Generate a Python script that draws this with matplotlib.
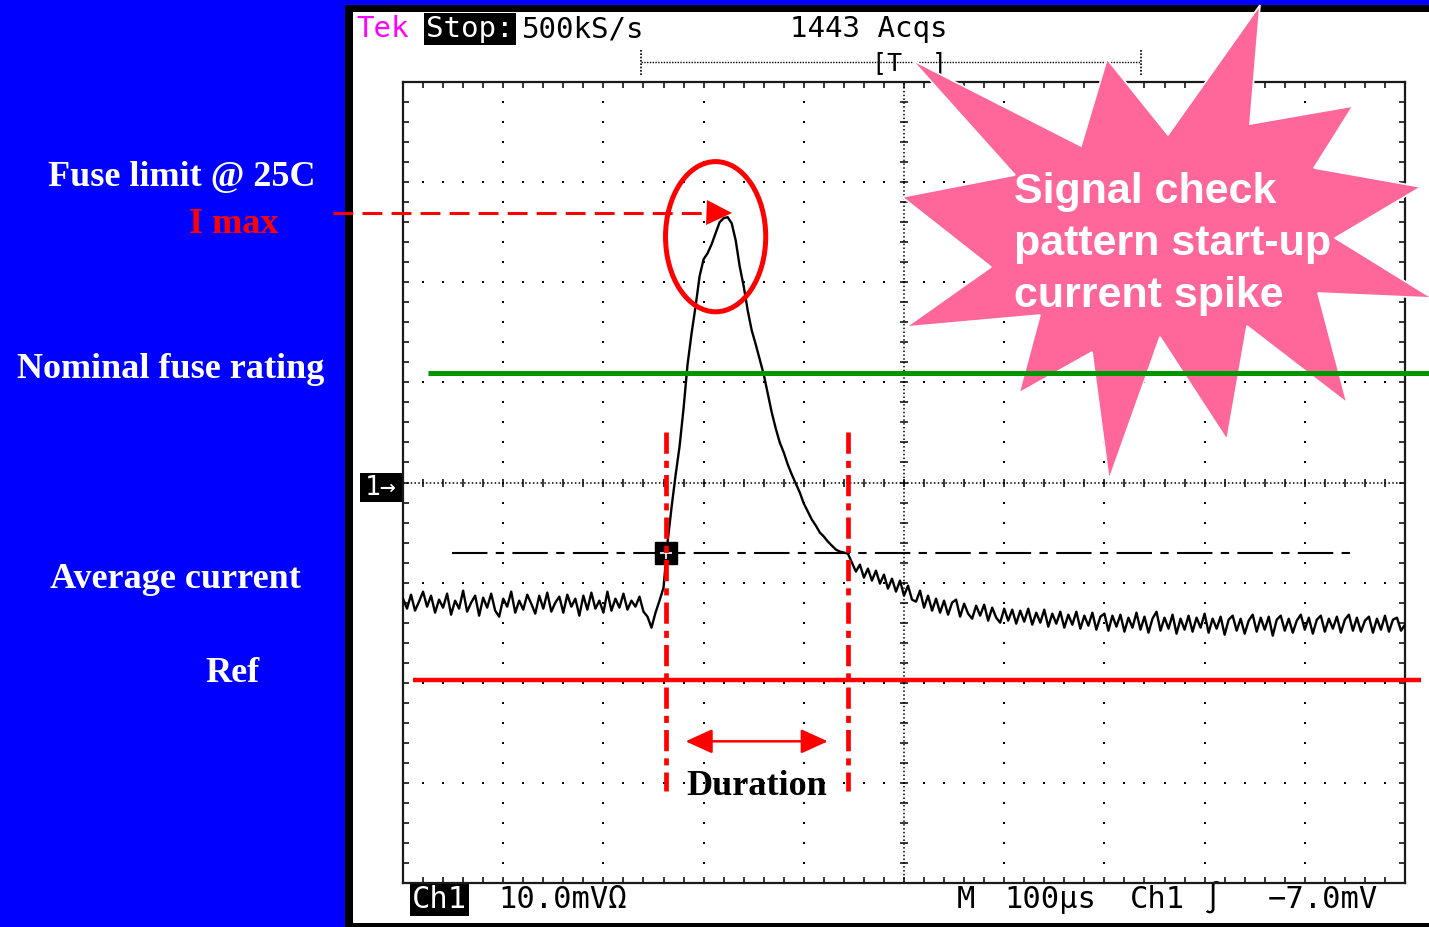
import numpy as np
import matplotlib.pyplot as plt
from matplotlib.patches import Ellipse, Polygon, Rectangle

W, H = 1429, 927

# Ch1 capture, 10 mV/div, 100 us/div, one point every 4 us
SAMPLE_US = 4
pre_trigger = [
    -11.6, -12.6, -11.2, -12.8, -11.9, -10.9, -12.4, -11.3, -13.0, -11.7,
    -12.5, -11.1, -13.2, -11.8, -12.6, -10.8, -12.9, -12.0, -11.3, -13.3,
    -11.5, -12.5, -11.1, -12.8, -13.4, -11.6, -12.4, -10.9, -13.0, -11.8,
    -12.7, -11.2, -12.1, -13.1, -11.3, -12.6, -11.0, -12.9, -12.0, -11.4,
    -13.0, -11.2, -12.4, -11.6, -13.3, -11.3, -12.7, -11.0, -12.6, -11.8,
    -13.0, -10.9, -12.8, -11.6, -12.5, -11.1, -12.7, -11.8, -12.4, -11.4,
    -12.9, -13.4, -14.5, -13.0,
]
spike = [
    -11.8, -10.5, -6.0, -2.5, 0.7, 3.6, 7.4, 11.8, 14.9, 17.6,
    20.6, 22.3, 22.9, 23.8, 24.9, 26.0, 26.4, 26.5, 25.9, 24.2,
    21.6, 19.6, 17.2, 15.2, 13.8, 12.3, 10.8, 8.9, 7.0, 5.4,
    4.0, 3.0, 1.8, 0.8, -0.1, -1.0, -2.1, -2.9, -3.7, -4.3,
    -5.0, -5.4, -5.9, -6.3, -6.7, -6.9, -7.0, -7.1,
]
tail = [
    -8.0, -8.9, -8.2, -9.5, -8.6, -9.8, -8.8, -10.1, -9.2, -10.6,
    -9.6, -10.9, -9.8, -11.3, -10.3, -11.7, -11.9, -10.8, -12.5, -11.3,
    -12.8, -11.6, -13.0, -11.8, -13.2, -12.0, -11.7, -13.4, -12.1, -13.1,
    -13.6, -12.3, -13.3, -12.2, -13.8, -12.5, -13.5, -14.0, -12.6, -13.8,
    -12.7, -14.1, -12.8, -13.9, -12.6, -14.2, -13.0, -14.0, -12.7, -14.4,
    -13.1, -14.1, -12.9, -14.5, -13.2, -14.2, -12.9, -14.6, -13.3, -14.3,
    -13.0, -14.7, -13.4, -13.1, -14.8, -13.3, -14.4, -13.2, -14.9, -13.5,
    -14.5, -13.0, -14.7, -13.4, -15.0, -13.6, -12.9, -14.8, -13.5, -14.6,
    -13.2, -15.1, -13.6, -14.7, -13.3, -14.9, -13.5, -14.5, -13.1, -15.0,
    -13.6, -14.6, -13.4, -15.2, -13.7, -13.3, -14.8, -13.6, -15.1, -13.8,
    -13.2, -14.9, -13.5, -14.7, -13.4, -15.3, -13.7, -13.3, -14.8, -13.6,
    -15.0, -13.8, -13.2, -14.7, -13.5, -15.1, -13.7, -13.3, -14.9, -13.6,
    -14.6, -13.4, -15.0, -13.7, -13.2, -14.8, -13.5, -14.9, -13.8, -13.4,
    -15.0, -13.6, -14.7, -13.3, -14.9, -13.7, -13.5, -14.8, -14.2,
]

# reference levels (mV) and marked times (us)
I_MAX = 26.95
NOMINAL = 10.95
TRIG_LEVEL = -7.0
REF_LEVEL = -19.75
DUR_START, DUR_END = 262.5, 444.0

trace = np.array(pre_trigger + spike + tail)
t = np.arange(trace.size) * SAMPLE_US

BLUE = "#0000ff"
PINK = "#ff6699"
GREEN = "#009600"
RED = "#ff0000"
SERIF = "Liberation Serif"
MONO = "DejaVu Sans Mono"

fig = plt.figure(figsize=(W / 100, H / 100), dpi=100)

# background layer in pixel units
bg = fig.add_axes([0, 0, 1, 1])
bg.set_xlim(0, W)
bg.set_ylim(H, 0)
bg.axis("off")
bg.add_patch(Rectangle((0, 0), W, H, fc=BLUE, ec="none"))
bg.add_patch(Rectangle((345, 5), W - 345, H - 5, fc="black", ec="none"))
bg.add_patch(Rectangle((353, 12), W - 353, H - 16, fc="white", ec="none"))

# left side labels
lbl = dict(family=SERIF, weight="bold", fontsize=26, ha="center", va="baseline")
bg.text(182, 186, "Fuse limit @ 25C", color="white", **lbl)
bg.text(234, 233, "I max", color=RED, **lbl)
bg.text(171, 378, "Nominal fuse rating", color="white", **lbl)
bg.text(175, 588, "Average current", color="white", **lbl)
bg.text(232, 682, "Ref", color="white", **lbl)

# scope header / footer readouts
hdr = dict(family=MONO, fontsize=21, va="baseline", ha="left")
bg.text(356, 37, "Tek", color="#ff00ff", **hdr)
bg.text(426, 37, "Stop:", color="white", **hdr,
        bbox=dict(fc="black", ec="none", pad=1.5))
bg.text(522, 37, "500kS/s", color="black", **hdr)
bg.text(790, 37, "1443 Acqs", color="black", **hdr)
bg.plot([641, 1141], [62, 62], color="black", lw=1, ls=(0, (1, 1)))
bg.plot([641, 641], [50, 76], color="black", lw=1.2, ls=(0, (1, 1)))
bg.plot([1141, 1141], [50, 76], color="black", lw=1.2, ls=(0, (1, 1)))
bg.text(872, 70, "[T  ]", color="black", family=MONO, fontsize=18, va="baseline")

ftr = dict(family=MONO, fontsize=22, va="baseline", ha="left", color="black")
bg.text(412, 908, "Ch1", **{**ftr, "color": "white"},
        bbox=dict(fc="black", ec="none", pad=1.5))
bg.text(498, 908, "10.0mV\u03a9", **ftr)
bg.text(957, 908, "M", **ftr)
bg.text(1004, 908, "100\u00b5s", **ftr)
bg.text(1130, 908, "Ch1", **ftr)
bg.text(1203, 908, "\u222b", **ftr)
bg.text(1268, 908, "\u22127.0mV", **ftr)

bg.add_patch(Rectangle((360, 473), 43, 29, fc="black", ec="none"))
bg.text(381, 488, "1\u2192", color="white", family=MONO, fontsize=19,
        ha="center", va="center")

# scope graticule: 10 x 8 divisions
ax = fig.add_axes([403 / W, (H - 883) / H, 1002 / W, 801 / H])
ax.set_xlim(0, 1000)
ax.set_ylim(-40, 40)
ax.patch.set_alpha(0)
ax.set_xticks([])
ax.set_yticks([])
for sp in ax.spines.values():
    sp.set_color("#1a1a1a")
    sp.set_linewidth(1.6)

xs = np.arange(0, 1001, 20)
ys = np.arange(-40, 41, 2)
dot = dict(ls="none", marker="s", ms=1.5, mew=0, color="black", zorder=1)
for k in range(1, 10):
    if k != 5:
        ax.plot(np.full(ys.size, 100 * k), ys, **dot)
for j in (-30, -20, -10, 10, 20, 30):
    ax.plot(xs, np.full(xs.size, j), **dot)

ax.plot([500, 500], [-40, 40], color="black", lw=1.1, ls=(0, (1, 1.5)), zorder=1)
ax.plot([0, 1000], [0, 0], color="black", lw=1.1, ls=(0, (1, 1.5)), zorder=1)
ax.plot(np.full(ys.size, 500), ys, ls="none", marker="_", ms=6, mew=1.1,
        color="black", zorder=1)
ax.plot(xs, np.zeros(xs.size), ls="none", marker="|", ms=6, mew=1.1,
        color="black", zorder=1)

edge = dict(ls="none", ms=4.5, mew=1.1, color="black", clip_on=False, zorder=1)
ax.plot(xs, np.full(xs.size, 40), marker=3, **edge)
ax.plot(xs, np.full(xs.size, -40), marker=2, **edge)
ax.plot(np.zeros(ys.size), ys, marker=1, **edge)
ax.plot(np.full(ys.size, 1000), ys, marker=0, **edge)

# callout burst
burst = [
    (1260, 5), (1250, 124), (1353, 106), (1314, 168), (1421, 187),
    (1335, 238), (1432, 298), (1318, 293), (1347, 403), (1247, 326),
    (1227, 440), (1160, 337), (1109, 480), (1092, 352), (1019, 393),
    (1040, 315), (906, 327), (991, 267), (902, 197), (1015, 175),
    (912, 60), (1081, 146), (1107, 59), (1168, 135),
]
ax.add_patch(Polygon(burst, closed=True, transform=bg.transData, fc=PINK,
                     ec="white", lw=1.2, clip_on=False, zorder=3))
star_txt = dict(transform=bg.transData, family="Liberation Sans", weight="bold",
                fontsize=31, color="white", va="baseline", ha="left", zorder=6)
ax.text(1014, 203, "Signal check", **star_txt)
ax.text(1014, 255, "pattern start-up", **star_txt)
ax.text(1014, 307, "current spike", **star_txt)

# waveform
ax.plot(t, trace, color="black", lw=1.7, zorder=4)

# average current (trigger level)
ax.plot([49, 950], [TRIG_LEVEL, TRIG_LEVEL], color="black", lw=1.5,
        ls=(0, (17, 4, 4, 4)), zorder=4)
ax.plot(DUR_START, TRIG_LEVEL, marker="s", ms=16, color="black", zorder=5)
ax.plot(DUR_START, TRIG_LEVEL, marker="+", ms=9, mew=1.2, color="white", zorder=5)

# nominal rating and reference
ax.plot([25, 1025], [NOMINAL, NOMINAL], color=GREEN, lw=3.6, clip_on=False,
        solid_capstyle="butt", zorder=7)
ax.plot([10, 1016], [REF_LEVEL, REF_LEVEL], color=RED, lw=3.2, clip_on=False,
        solid_capstyle="butt", zorder=7)

# I max pointer and peak circle
ax.plot([-70, 302], [I_MAX, I_MAX], color=RED, lw=2.2, ls=(0, (6.5, 3)),
        clip_on=False, zorder=7)
ax.plot(315, I_MAX, marker=">", ms=18, color=RED, mew=0, zorder=7)
ax.add_patch(Ellipse((312, 24.55), 100, 15, fill=False, ec=RED, lw=3.6,
                     clip_on=False, zorder=7))

# duration markers
for tm in (DUR_START, DUR_END):
    ax.plot([tm, tm], [5.0, -30.8], color=RED, lw=3.4, ls=(0, (4.5, 1.5, 1.5, 1.5)),
            zorder=7)
ax.annotate("", xy=(282, -25.85), xytext=(424, -25.85),
            arrowprops=dict(arrowstyle="<|-|>,head_length=0.55,head_width=0.25",
                            color=RED, lw=1.8, mutation_scale=30,
                            shrinkA=0, shrinkB=0), zorder=7)
ax.text(353, -31.2, "Duration", family=SERIF, weight="bold", fontsize=26,
        ha="center", va="baseline", color="black", zorder=7)

fig.savefig("out.png", dpi=100)
